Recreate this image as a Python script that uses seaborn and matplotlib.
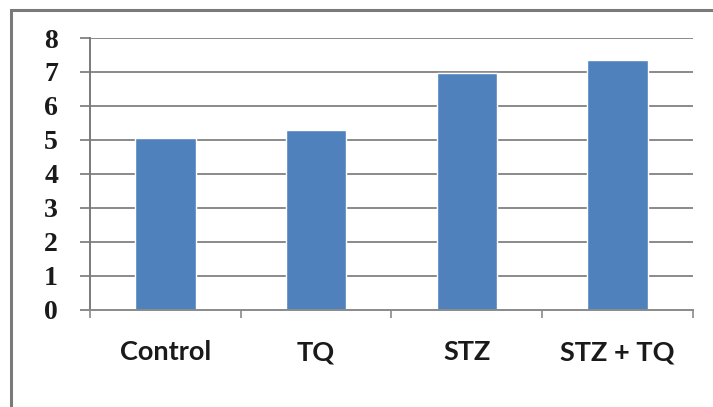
import matplotlib
matplotlib.use("Agg")
import matplotlib.pyplot as plt
from matplotlib.patches import Rectangle
from matplotlib.ticker import FixedLocator
import seaborn as sns
import pandas as pd

groups = ["Control", "TQ", "STZ", "STZ + TQ"]
values = [5.04, 5.30, 6.96, 7.35]
y_ticks = [0, 1, 2, 3, 4, 5, 6, 7, 8]

df = pd.DataFrame({"group": groups, "value": values})

sns.set_theme(style="white")
plt.rcParams["font.family"] = ["DejaVu Sans"]

fig = plt.figure(figsize=(7.13, 4.07), dpi=100)
ax = fig.add_axes([90 / 713, 1 - 309.5 / 407, 603 / 713, (309.5 - 38) / 407])

grid_col = "#8a8a8a"
ax.set_axisbelow(True)
for t in y_ticks[1:]:
    ax.axhline(t, color=grid_col, lw=1.4, zorder=0)

sns.barplot(data=df, x="group", y="value", order=groups, color="#4f81bd",
            saturation=1, width=0.4, ax=ax, zorder=2)

ax.set_xlim(-0.5, 3.5)
ax.set_ylim(0, 8)
ax.set_yticks(y_ticks)
ax.set_xlabel("")
ax.set_ylabel("")

for s in ("top", "right"):
    ax.spines[s].set_visible(False)
ax.spines["left"].set_color("#7a7a7a")
ax.spines["bottom"].set_color(grid_col)
ax.spines["left"].set_linewidth(1.4)
ax.spines["bottom"].set_linewidth(1.4)

ax.tick_params(axis="y", length=7, width=1.4, color=grid_col, pad=16, left=True)
ax.set_yticklabels([str(t) for t in y_ticks], family="Liberation Serif",
                   fontweight="bold", fontsize=20, color="#1a1a1a")

ax.xaxis.set_minor_locator(FixedLocator([-0.5, 0.5, 1.5, 2.5, 3.5]))
ax.tick_params(axis="x", which="major", length=0, pad=22)
ax.tick_params(axis="x", which="minor", length=6, width=1.2, color=grid_col,
               bottom=True)
ax.set_xticks(range(len(groups)))
ax.set_xticklabels(groups, family="Lato", fontweight="bold", fontsize=19.5,
                   color="#1a1a1a")

# outer chart frame
fig.patches.append(Rectangle((11 / 713, -0.05), 1.1, 1 - 10 / 407 + 0.05,
                             transform=fig.transFigure, fill=False,
                             edgecolor="#7a7a7a", lw=2.2))

fig.savefig("out.png", dpi=100)
